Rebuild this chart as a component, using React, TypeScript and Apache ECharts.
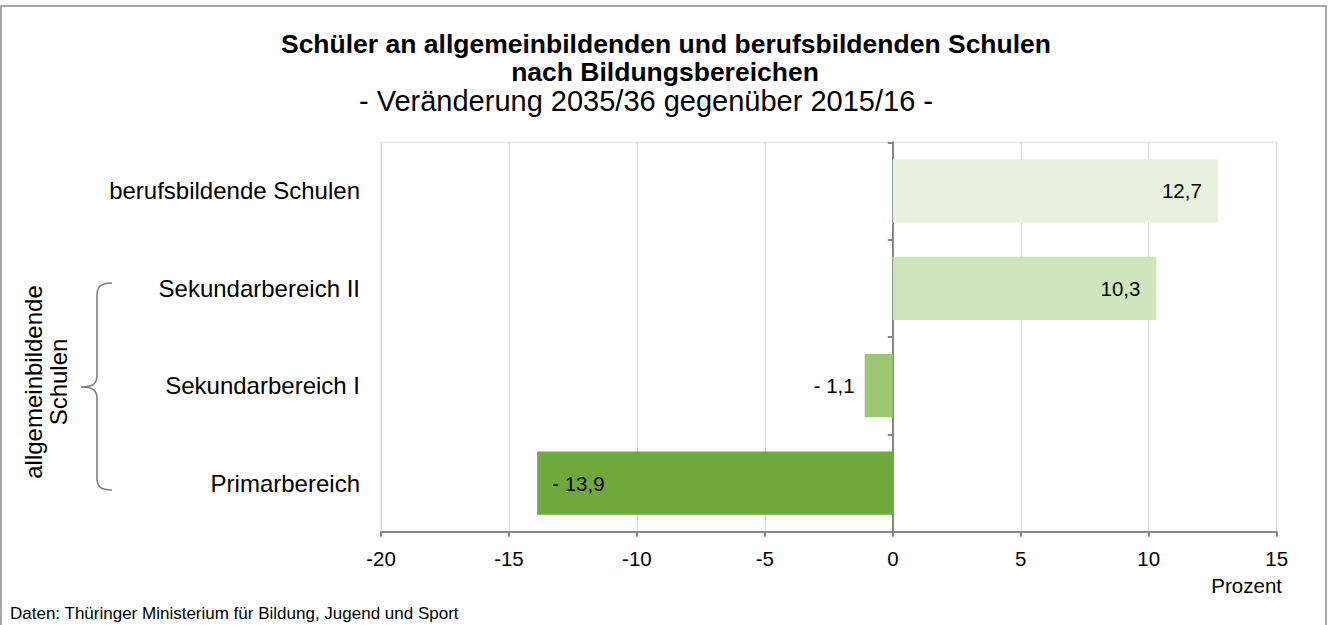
import React, { useEffect, useRef } from 'react';
import * as echarts from 'echarts';

// ---- data ----
const categories = ['Primarbereich', 'Sekundarbereich I', 'Sekundarbereich II', 'berufsbildende Schulen'];
const values = [-13.9, -1.1, 10.3, 12.7];
const xMin = -20;
const xMax = 15;
const xInterval = 5;

const titleLines = [
  'Schüler an allgemeinbildenden und berufsbildenden Schulen',
  'nach Bildungsbereichen',
  '- Veränderung 2035/36 gegenüber 2015/16 -',
];
const groupLabel = 'allgemeinbildende\nSchulen';
const unitLabel = 'Prozent';
const sourceLabel = 'Daten: Thüringer Ministerium für Bildung, Jugend und Sport';

// ---- styles ----
const barColors = ['#70a93b', '#9dc76f', '#d0e5bc', '#e9f2e1'];
const labelPositions = ['insideLeft', 'left', 'insideRight', 'insideRight'];
const labelDistances = [15, 10, 16, 16];
const FONT = '"Liberation Sans", Arial, Helvetica, sans-serif';

const BRACE_D =
  'M112 283 C101 283 97 286 97 296 L97 375 C97 384 93 387 81 387 C93 387 97 390 97 399 L97 478 C97 487 101 490 112 490';
let braceRegistered = false;
function registerBrace() {
  if (braceRegistered) return;
  echarts.graphic.registerShape('brace', echarts.graphic.extendPath(BRACE_D, {}) as any);
  braceRegistered = true;
}

function fmt(v: number): string {
  const s = Math.abs(v).toFixed(1).replace('.', ',');
  return v < 0 ? '- ' + s : s;
}

export default function App() {
  const ref = useRef<HTMLDivElement>(null);

  useEffect(() => {
    if (!ref.current) return;
    registerBrace();
    const chart = echarts.init(ref.current, undefined, { renderer: 'svg' });

    const seriesData = values.map((v, i) => ({
      value: v,
      itemStyle: { color: barColors[i] },
      label: {
        show: true,
        position: labelPositions[i] as any,
        distance: labelDistances[i],
        formatter: () => fmt(v),
        color: '#000',
        fontSize: 20.5,
        fontFamily: FONT,
      },
    }));

    chart.setOption({
      animation: false,
      backgroundColor: '#fff',
      textStyle: { fontFamily: FONT },
      grid: {
        left: 381,
        right: 53.3,
        top: 142.3,
        bottom: 93.3,
        show: true,
        borderColor: '#d9d9d9',
        borderWidth: 1,
        containLabel: false,
      },
      xAxis: {
        type: 'value',
        min: xMin,
        max: xMax,
        interval: xInterval,
        axisLine: { show: true, onZero: false, lineStyle: { color: '#878787', width: 2 } },
        axisTick: { show: true, length: 5, lineStyle: { color: '#878787', width: 2 } },
        axisLabel: { color: '#000', fontSize: 20.5, margin: 16, fontFamily: FONT },
        splitLine: { show: true, lineStyle: { color: '#d9d9d9', width: 1 } },
      },
      yAxis: [
        {
          type: 'category',
          data: categories,
          position: 'left',
          axisLine: { show: false, onZero: false },
          axisTick: { show: false },
          axisLabel: { color: '#000', fontSize: 24, margin: 21, fontFamily: FONT },
          splitLine: { show: false },
        },
        {
          type: 'category',
          data: categories,
          position: 'left',
          axisLine: { show: true, onZero: true, lineStyle: { color: '#878787', width: 2 } },
          axisTick: { show: true, length: 5, lineStyle: { color: '#878787', width: 2 } },
          axisLabel: { show: false },
          splitLine: { show: false },
        },
      ],
      series: [
        {
          type: 'bar',
          yAxisIndex: 0,
          data: seriesData,
          barCategoryGap: '35%',
          z: 1,
        },
      ],
      graphic: [
        {
          type: 'rect',
          silent: true,
          shape: { x: 1, y: 6, width: 1325, height: 640 },
          style: { fill: 'none', stroke: '#8c8c8c', lineWidth: 1.5 },
        },
        {
          type: 'text',
          x: 666,
          y: 44,
          style: {
            text: titleLines[0],
            fill: '#000',
            font: 'bold 26.5px ' + FONT,
            align: 'center',
            verticalAlign: 'middle',
          },
        },
        {
          type: 'text',
          x: 665,
          y: 72,
          style: {
            text: titleLines[1],
            fill: '#000',
            font: 'bold 26.5px ' + FONT,
            align: 'center',
            verticalAlign: 'middle',
          },
        },
        {
          type: 'text',
          x: 646,
          y: 101,
          style: {
            text: titleLines[2],
            fill: '#000',
            font: '29px ' + FONT,
            align: 'center',
            verticalAlign: 'middle',
          },
        },
        {
          type: 'text',
          x: 46,
          y: 382,
          rotation: Math.PI / 2,
          style: {
            text: groupLabel,
            fill: '#000',
            font: '24px ' + FONT,
            lineHeight: 25,
            align: 'center',
            verticalAlign: 'middle',
          },
        },
        {
          type: 'brace',
          x: 0,
          y: 0,
          silent: true,
          style: { fill: 'none', stroke: '#7f7f7f', lineWidth: 1.6 },
        },
        {
          type: 'text',
          x: 1282,
          y: 585,
          style: {
            text: unitLabel,
            fill: '#000',
            font: '20.5px ' + FONT,
            align: 'right',
            verticalAlign: 'middle',
          },
        },
        {
          type: 'text',
          x: 10,
          y: 613,
          style: {
            text: sourceLabel,
            fill: '#000',
            font: '17px ' + FONT,
            align: 'left',
            verticalAlign: 'middle',
          },
        },
      ],
    });

    return () => {
      chart.dispose();
    };
  }, []);

  return (
    <div
      ref={ref}
      style={{ position: 'fixed', left: 0, top: 0, width: 1330, height: 625, background: '#fff' }}
    />
  );
}
